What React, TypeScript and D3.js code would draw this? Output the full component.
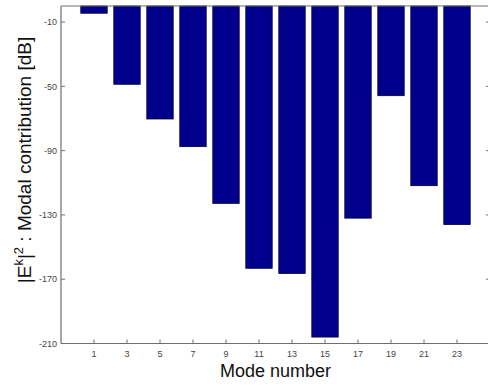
import React from "react";
import * as d3 from "d3";

const modes = [1, 3, 5, 7, 9, 11, 13, 15, 17, 19, 21, 23];
const contributionDb = [-4.5, -48.7, -70.3, -87.5, -122.8, -163.2, -166.4, -206, -132, -55.8, -111.8, -136];
const yTicks = [-10, -50, -90, -130, -170, -210];
const xTicks = [1, 3, 5, 7, 9, 11, 13, 15, 17, 19, 21, 23];

const W = 488;
const H = 386;
const left = 61;
const right = 490;
const top = 6;
const bottom = 343.5;

export default function App() {
  const x = d3.scaleLinear().domain([-1, 25]).range([left, right]);
  const y = d3.scaleLinear().domain([-210, 0]).range([bottom, top]);
  const barW = x(1.6) - x(0);
  const axisColor = "#6e6e6e";
  const font = "Liberation Sans, Arial, sans-serif";

  return (
    <svg
      width={W}
      height={H}
      style={{ position: "absolute", left: 0, top: 0, background: "#fff" }}
      fontFamily={font}
    >
      <rect x={0} y={0} width={W} height={H} fill="#fff" />
      {modes.map((m, i) => {
        const v = contributionDb[i];
        return (
          <rect
            key={m}
            x={x(m) - barW / 2}
            y={y(0)}
            width={barW}
            height={y(v) - y(0)}
            fill="#00008c"
            stroke="#000030"
            strokeWidth={0.8}
          />
        );
      })}
      {/* frame */}
      <line x1={left} y1={top} x2={right} y2={top} stroke={axisColor} strokeWidth={1} />
      <line x1={left} y1={top} x2={left} y2={bottom} stroke={axisColor} strokeWidth={1.2} />
      <line x1={left} y1={bottom} x2={right} y2={bottom} stroke={axisColor} strokeWidth={1.2} />
      <line x1={right} y1={top} x2={right} y2={bottom} stroke={axisColor} strokeWidth={1} />
      {/* y ticks */}
      {yTicks.map((t) => (
        <g key={t}>
          <line x1={left} x2={left + 4} y1={y(t)} y2={y(t)} stroke={axisColor} />
          <line x1={right - 4} x2={right} y1={y(t)} y2={y(t)} stroke={axisColor} />
          <text
            x={left - 4}
            y={y(t)}
            dy="0.35em"
            textAnchor="end"
            fontSize={9}
            fill="#444"
          >
            {t}
          </text>
        </g>
      ))}
      {/* x ticks */}
      {xTicks.map((t) => (
        <g key={t}>
          <line x1={x(t)} x2={x(t)} y1={bottom} y2={bottom - 4} stroke={axisColor} />
          <text x={x(t)} y={bottom + 13} textAnchor="middle" fontSize={9} fill="#444">
            {t}
          </text>
        </g>
      ))}
      <text
        x={(left + right) / 2}
        y={377}
        textAnchor="middle"
        fontSize={18}
        fill="#111"
      >
        Mode number
      </text>
      <text
        transform={`translate(31, 160) rotate(-90)`}
        textAnchor="middle"
        fontSize={19}
        fill="#111"
      >
        |E
        <tspan dy={-8} fontSize={13}>k</tspan>
        <tspan dy={8}>|</tspan>
        <tspan dy={-8} fontSize={13}>2</tspan>
        <tspan dy={8}> : Modal contribution [dB]</tspan>
      </text>
    </svg>
  );
}
